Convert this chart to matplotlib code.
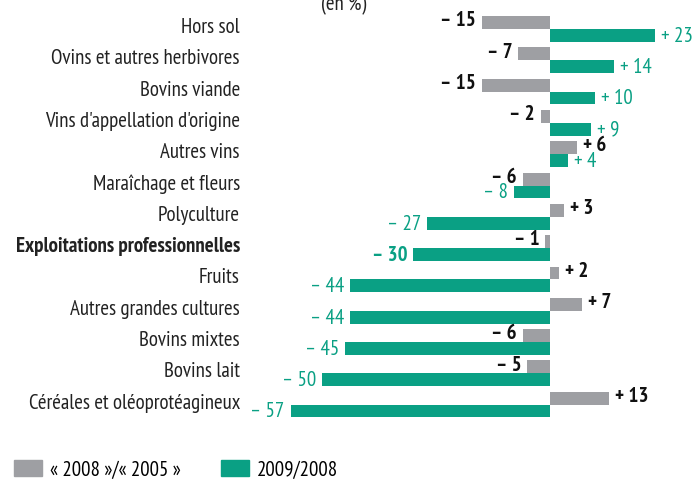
import matplotlib.pyplot as plt
from matplotlib.patches import Patch

plt.rcParams['font.family'] = ['PT Sans Narrow', 'DejaVu Sans']

categories = ["Hors sol", "Ovins et autres herbivores", "Bovins viande",
              "Vins d'appellation d'origine", "Autres vins", "Maraîchage et fleurs",
              "Polyculture", "Exploitations professionnelles", "Fruits",
              "Autres grandes cultures", "Bovins mixtes", "Bovins lait",
              "Céréales et oléoprotéagineux"]
v_2008_2005 = [-15, -7, -15, -2, 6, -6, 3, -1, 2, 7, -6, -5, 13]
v_2009_2008 = [23, 14, 10, 9, 4, -8, -27, -30, -44, -44, -45, -50, -57]
bold_row = "Exploitations professionnelles"

GRAY = '#9e9fa3'
GREEN = '#0aa084'
FS = 15

fig = plt.figure(figsize=(6.96, 4.80), dpi=100)
ax = fig.add_axes([0, 0, 1, 1])
ppu = 4.55  # pixels per %
x0 = 550
ax.set_xlim(-x0 / ppu, (696 - x0) / ppu)
pitch = 31.3
ax.set_ylim((480 - 29) / pitch, -29 / pitch)
ax.axis('off')

h = 0.41
ys = list(range(len(categories)))
ax.barh([y - h / 2 for y in ys], v_2008_2005, height=h, color=GRAY, linewidth=0)
ax.barh([y + h / 2 for y in ys], v_2009_2008, height=h, color=GREEN, linewidth=0)


def fmt(v):
    return ("+ %d" % v) if v > 0 else ("\u2013 %d" % -v)


pad = 6 / ppu
for y, name, a, b in zip(ys, categories, v_2008_2005, v_2009_2008):
    w = 'bold' if name == bold_row else 'normal'
    ax.text((240 - x0) / ppu, y - 0.05, name, ha='right', va='center',
            fontsize=FS, color='#222222', fontweight=w)
    for v, yy, c in ((a, y - h / 2 - 0.06, '#111111'), (b, y + h / 2 + 0.03, GREEN)):
        fw = 'bold' if (w == 'bold' or c != GREEN) else 'normal'
        if v > 0:
            ax.text(v + pad, yy, fmt(v), ha='left', va='center', fontsize=FS,
                    color=c, fontweight=fw)
        else:
            ax.text(v - pad, yy, fmt(v), ha='right', va='center', fontsize=FS,
                    color=c, fontweight=fw)

fig.text(344 / 696, 1 - 5 / 480, "(en %)", ha='center', va='center',
         fontsize=FS, color='#222222')

handles = [Patch(color=GRAY, label="« 2008 »/« 2005 »"),
           Patch(color=GREEN, label="2009/2008")]
fig.legend(handles=handles, loc='center left', bbox_to_anchor=(14 / 696, 10 / 480),
           ncol=2, frameon=False, fontsize=FS, handlelength=1.35,
           handleheight=0.8, columnspacing=1.9, handletextpad=0.4,
           borderpad=0, borderaxespad=0)

fig.savefig('out.png', dpi=100)
